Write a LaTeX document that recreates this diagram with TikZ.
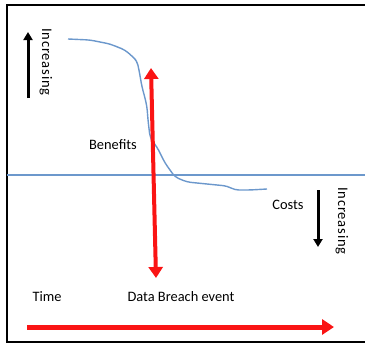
\documentclass[tikz,border=0pt]{standalone}
\usepackage{fontspec}
\setmainfont{Carlito}
\usetikzlibrary{arrows.meta}
\definecolor{curveblue}{RGB}{108,152,204}
\definecolor{arrowred}{RGB}{250,20,20}
\tikzset{
  lbl/.style={inner sep=0pt, font=\fontsize{14.4}{16}\selectfont},
  vlbl/.style={inner sep=0pt, font=\fontsize{14.6}{16}\selectfont\addfontfeature{LetterSpace=5}, rotate=-90},
  redarrow/.style={draw=arrowred, line width=4pt, -{Triangle[width=13pt,length=10pt]}},
  blackarrow/.style={draw=black, line width=3pt, -{Triangle[width=9pt,length=8pt]}},
  bluecurve/.style={draw=curveblue, line width=1.4pt}
}
\begin{document}
\begin{tikzpicture}[x=1pt,y=-1pt]
\useasboundingbox (0,0) rectangle (365,343);
% frame
\draw[line width=2pt] (365,5) -- (7,5) -- (7,342) -- (365,342);
% axis
\coordinate (axL) at (7,175);
\coordinate (axR) at (365,175);
\draw[curveblue, line width=1.6pt] (axL) -- (axR);
% curve
\draw[bluecurve, rounded corners=4pt] (68,39) -- (90,40) -- (110,44) -- (125,50) -- (133,57) -- (137,61) -- (139,70) -- (142,87) -- (145,98) -- (147,107) -- (148,120) -- (150,137) -- (153,142) -- (157,147) -- (160,153) -- (165,163) -- (170,170) -- (175,177) -- (187,182) -- (197,183) -- (227,186) -- (235,190) -- (250,190) -- (267,189);
% red vertical arrow (double-headed)
\coordinate (vtop) at (151,68);
\coordinate (vbot) at (156,278);
\draw[redarrow, {Triangle[width=14pt,length=11pt]}-{Triangle[width=14pt,length=11pt]}] (vtop) -- (vbot);
% time arrow
\coordinate (tL) at (27,327);
\coordinate (tR) at (334,327);
\draw[redarrow, line width=5pt, -{Triangle[width=15pt,length=12pt]}] (tL) -- (tR);
% black arrows
\coordinate (upB) at (28,98);
\coordinate (upT) at (28,32);
\draw[blackarrow] (upB) -- (upT);
\coordinate (dnT) at (318,190);
\coordinate (dnB) at (318,247);
\draw[blackarrow] (dnT) -- (dnB);
% labels
\node[vlbl] (inc1) at (46,62) {Increasing};
\node[vlbl] (inc2) at (342,221) {Increasing};
\node[lbl] (benefits) at (113,145) {Benefits};
\node[lbl] (costs) at (288,205) {Costs};
\node[lbl] (time) at (47,297) {Time};
\node[lbl] (breach) at (181,297) {Data Breach event};
\end{tikzpicture}
\end{document}
